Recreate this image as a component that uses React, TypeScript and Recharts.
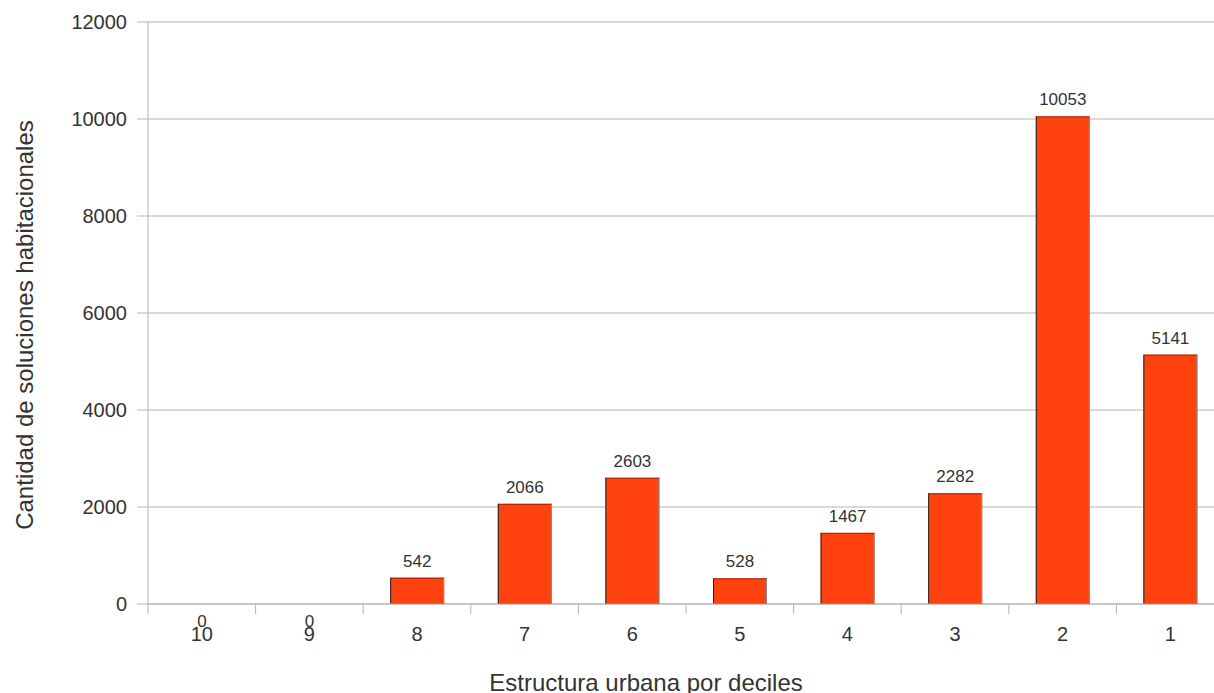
import { Bar, BarChart, CartesianGrid, LabelList, XAxis, YAxis } from "recharts";

const deciles = ["10", "9", "8", "7", "6", "5", "4", "3", "2", "1"];
const soluciones = [0, 0, 542, 2066, 2603, 528, 1467, 2282, 10053, 5141];
const yTicks = [0, 2000, 4000, 6000, 8000, 10000, 12000];

const data = deciles.map((d, i) => ({ decil: d, value: soluciones[i] }));

const CHART_W = 1224;
const CHART_H = 693;
const Y_AXIS_W = 148;
const PLOT_W = CHART_W - Y_AXIS_W;
const BAND = PLOT_W / deciles.length;
const FONT = "'Liberation Sans', Arial, sans-serif";
const GRID = "#b3b3b3";
const TEXT = "#333";

function DecileTick(props: any) {
  const { x, y, payload, index } = props;
  const left = x - BAND / 2;
  const right = x + BAND / 2;
  return (
    <g>
      <line x1={left} y1={y} x2={left} y2={y + 10} stroke={GRID} />
      {index === deciles.length - 1 && <line x1={right} y1={y} x2={right} y2={y + 10} stroke={GRID} />}
      <text x={x} y={y + 37} textAnchor="middle" fontSize={20} fill={TEXT} fontFamily={FONT}>
        {payload.value}
      </text>
    </g>
  );
}

// fill plus the dark left/top and grey right edges of the original bars
function BarShape(props: any) {
  const { x, y, width, height, fill } = props;
  if (!height) return <g />;
  return (
    <g>
      <rect x={x} y={y} width={width} height={height} fill={fill} />
      <line x1={x + 0.5} y1={y} x2={x + 0.5} y2={y + height} stroke="#222" />
      <line x1={x} y1={y + 0.5} x2={x + width} y2={y + 0.5} stroke="#a02000" />
      <line x1={x + width - 0.5} y1={y} x2={x + width - 0.5} y2={y + height} stroke="#8a8a8a" />
      <line x1={x} y1={y + height - 0.5} x2={x + width} y2={y + height - 0.5} stroke="#555" />
    </g>
  );
}

function ValueLabel(props: any) {
  const { x, y, width, value } = props;
  const cx = x + width / 2;
  // zero values sit under the axis, on top of the decile label
  const ty = value === 0 ? y + 23 : y - 11;
  return (
    <text x={cx} y={ty} textAnchor="middle" fontSize={17} fill={TEXT} fontFamily={FONT}>
      {value}
    </text>
  );
}

function YTitle(props: any) {
  const { viewBox } = props;
  const cx = viewBox.x + 24;
  const cy = viewBox.y + viewBox.height / 2 + 12;
  return (
    <text
      x={cx}
      y={cy}
      transform={`rotate(-90 ${cx} ${cy})`}
      textAnchor="middle"
      dominantBaseline="central"
      fontSize={24}
      fill={TEXT}
      fontFamily={FONT}
    >
      Cantidad de soluciones habitacionales
    </text>
  );
}

function XTitle(props: any) {
  const { viewBox } = props;
  const cx = viewBox.x + viewBox.width / 2 - 40;
  return (
    <text x={cx} y={viewBox.y + 87} textAnchor="middle" fontSize={24} fill={TEXT} fontFamily={FONT}>
      Estructura urbana por deciles
    </text>
  );
}

export default function App() {
  return (
    <div style={{ position: "absolute", left: 0, top: 0, width: 1214, height: 693, overflow: "hidden", background: "#fff" }}>
      <BarChart
        width={CHART_W}
        height={CHART_H}
        data={data}
        margin={{ top: 22, right: 0, left: 0, bottom: 0 }}
        barSize={54}
      >
        <CartesianGrid vertical={false} stroke={GRID} />
        <XAxis
          dataKey="decil"
          height={89}
          tickSize={0}
          tickMargin={0}
          tickLine={false}
          axisLine={{ stroke: GRID }}
          tick={<DecileTick />}
          interval={0}
          label={<XTitle />}
        />
        <YAxis
          width={Y_AXIS_W}
          domain={[0, 12000]}
          ticks={yTicks}
          interval={0}
          tickSize={11}
          tickMargin={10}
          tickLine={{ stroke: GRID }}
          axisLine={{ stroke: GRID }}
          tick={{ fontSize: 20, fill: TEXT, fontFamily: FONT }}
          label={<YTitle />}
        />
        <Bar dataKey="value" fill="#ff420e" shape={<BarShape />} isAnimationActive={false}>
          <LabelList dataKey="value" content={<ValueLabel />} />
        </Bar>
      </BarChart>
    </div>
  );
}
